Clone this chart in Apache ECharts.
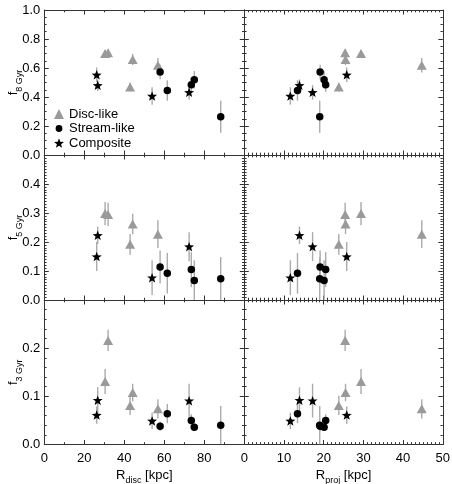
<!DOCTYPE html>
<html><head><meta charset="utf-8">
<script src="https://cdn.jsdelivr.net/npm/echarts@6/dist/echarts.min.js"></script>
<style>html,body{margin:0;padding:0;background:#fff}#c{width:452px;height:484px}</style>
</head><body><div id="c"></div>
<script>
// ---------------- data ----------------
const discRdisc = [30.4, 31.9, 44.2, 42.9, 56.8];
const discRproj = [29.4, 25.4, 25.5, 23.8, 44.7];
const discF8 = [0.700, 0.705, 0.658, 0.469, 0.619];
const discF8Err = [0.02, 0.025, 0.038, 0.03, 0.05];
const discF5 = [0.298, 0.295, 0.262, 0.192, 0.227];
const discF5Err = [0.04, 0.04, 0.035, 0.036, 0.048];
const discF3 = [0.131, 0.216, 0.108, 0.081, 0.074];
const discF3Err = [0.026, 0.022, 0.018, 0.02, 0.02];

const streamRdisc = [57.9, 61.5, 73.5, 75.0, 88.2];
const streamRproj = [19.1, 13.4, 20.5, 20.1, 19.0];
const streamF8 = [0.572, 0.445, 0.485, 0.519, 0.264];
const streamF8Err = [0.05, 0.07, 0.05, 0.06, 0.11];
const streamF5 = [0.114, 0.092, 0.105, 0.067, 0.073];
const streamF5Err = [0.057, 0.07, 0.06, 0.07, 0.075];
const streamF3 = [0.038, 0.064, 0.050, 0.036, 0.040];
const streamF3Err = [0.01, 0.02, 0.013, 0.008, 0.04];

const compRdisc = [26.2, 26.7, 53.9, 72.4];
const compRproj = [25.8, 13.9, 11.6, 17.2];
const compF8 = [0.553, 0.481, 0.407, 0.432];
const compF8Err = [0.05, 0.04, 0.06, 0.05];
const compF5 = [0.150, 0.223, 0.077, 0.184];
const compF5Err = [0.05, 0.03, 0.06, 0.05];
const compF3 = [0.061, 0.092, 0.049, 0.091];
const compF3Err = [0.018, 0.027, 0.017, 0.035];

const seriesNames = ['Disc-like', 'Stream-like', 'Composite'];
const yTitleSubs = ['8 Gyr', '5 Gyr', '3 Gyr'];
const xTitleSubs = ['disc', 'proj'];
const yMaxes = [1.0, 0.5, 0.3];
const yIntervals = [0.2, 0.1, 0.1];
const xMaxes = [100, 50];
const xIntervals = [20, 10];

// ---------------- styling ----------------
const FONT = "'Liberation Sans', Arial, Helvetica, sans-serif";
const AX = '#333';
const yMinorSplit = [4, 10, 5];
const xMinorSplit = [2, 10];
const cols = [{left: 44.3, width: 200}, {left: 244.3, width: 198.5}];
const rows = [{top: 10, height: 145}, {top: 155, height: 145}, {top: 300, height: 144.5}];

function starPath(ro, ri) {
  let d = '';
  for (let k = 0; k < 10; k++) {
    const r = k % 2 === 0 ? ro : ri;
    const a = -Math.PI / 2 + k * Math.PI / 5;
    d += (k === 0 ? 'M' : 'L') + (r * Math.cos(a)).toFixed(3) + ',' + (r * Math.sin(a)).toFixed(3) + ' ';
  }
  return 'path://' + d + 'Z';
}
const STAR = starPath(10, 4.2);
const LEG_CIRCLE = 'path://M0,0 M10,10 M5,1.6 A3.4,3.4 0 1 1 5,8.4 A3.4,3.4 0 1 1 5,1.6 Z';

const groups = [
  {R: [discRdisc, discRproj], f: [discF8, discF5, discF3], e: [discF8Err, discF5Err, discF3Err],
   symbol: 'triangle', size: [10, 9], color: '#9a9a9a'},
  {R: [streamRdisc, streamRproj], f: [streamF8, streamF5, streamF3], e: [streamF8Err, streamF5Err, streamF3Err],
   symbol: 'circle', size: 7.5, color: '#000'},
  {R: [compRdisc, compRproj], f: [compF8, compF5, compF3], e: [compF8Err, compF5Err, compF3Err],
   symbol: STAR, size: [10, 9.5], color: '#000'}
];

const rich = {
  a: {fontSize: 13, fontFamily: FONT, color: '#000', lineHeight: 14, verticalAlign: 'top'},
  b: {fontSize: 9, fontFamily: FONT, color: '#000', lineHeight: 17, verticalAlign: 'bottom'}
};

const grid = [], xAxis = [], yAxis = [], series = [];

function baseAxis(gi, max, interval, minor, pos) {
  return {
    type: 'value', gridIndex: gi, position: pos, min: 0, max: max, interval: interval,
    axisLine: {show: true, onZero: false, lineStyle: {color: AX, width: 1}},
    axisTick: {show: true, inside: true, length: 4.5, lineStyle: {color: AX, width: 1}},
    minorTick: {show: true, splitNumber: minor, length: 2.3, lineStyle: {color: AX, width: 1}},
    splitLine: {show: false}, minorSplitLine: {show: false},
    axisLabel: {show: false}
  };
}

for (let r = 0; r < 3; r++) {
  for (let c = 0; c < 2; c++) {
    const gi = r * 2 + c;
    grid.push({left: cols[c].left, width: cols[c].width, top: rows[r].top, height: rows[r].height,
               containLabel: false, outerBoundsMode: 'none'});
    const xb = baseAxis(gi, xMaxes[c], xIntervals[c], xMinorSplit[c], 'bottom');
    if (r === 2) {
      xb.axisLabel = {show: true, margin: 7, color: '#000', fontSize: 13, fontFamily: FONT,
                      showMaxLabel: c === 1, showMinLabel: true,
                      formatter: v => String(Math.round(v))};
      xb.name = '{a|R}{b|' + xTitleSubs[c] + '}{a| [kpc]}';
      xb.nameLocation = 'middle';
      xb.nameGap = 24;
      xb.nameMoveOverlap = false;
      xb.nameTextStyle = {rich: rich};
    }
    xAxis.push(xb);
    xAxis.push(baseAxis(gi, xMaxes[c], xIntervals[c], xMinorSplit[c], 'top'));
    const yl = baseAxis(gi, yMaxes[r], yIntervals[r], yMinorSplit[r], 'left');
    if (c === 0) {
      yl.axisLabel = {show: true, margin: 4, color: '#000', fontSize: 13, fontFamily: FONT,
                      showMaxLabel: r === 0, showMinLabel: true,
                      formatter: v => v.toFixed(1)};
      yl.name = '{a|f}{b|' + yTitleSubs[r] + '}';
      yl.nameLocation = 'middle';
      yl.nameGap = 20;
      yl.nameMoveOverlap = false;
      yl.nameTextStyle = {rich: rich};
    }
    yAxis.push(yl);
    yAxis.push(baseAxis(gi, yMaxes[r], yIntervals[r], yMinorSplit[r], 'right'));

    groups.forEach((g, k) => {
      const xs = g.R[c], ys = g.f[r], es = g.e[r];
      series.push({
        type: 'custom', name: 'err' + k, xAxisIndex: gi * 2, yAxisIndex: gi * 2, z: 1, silent: true,
        clip: true,
        encode: {x: 0, y: [1, 2]},
        data: xs.map((x, i) => [x, ys[i] - es[i], ys[i] + es[i]]),
        renderItem: (params, api) => {
          const cs = params.coordSys;
          const p1 = api.coord([api.value(0), api.value(1)]);
          const p2 = api.coord([api.value(0), api.value(2)]);
          const yb = Math.min(p1[1], cs.y + cs.height);
          const yt = Math.max(p2[1], cs.y);
          return {type: 'line', shape: {x1: p1[0], y1: yb, x2: p2[0], y2: yt},
                  style: {stroke: '#ababab', lineWidth: 1.4}};
        }
      });
    });
    groups.forEach((g, k) => {
      const xs = g.R[c], ys = g.f[r];
      series.push({
        type: 'scatter', name: seriesNames[k], xAxisIndex: gi * 2, yAxisIndex: gi * 2, z: 3 + k,
        symbol: g.symbol, symbolSize: g.size, silent: true,
        itemStyle: {color: g.color, opacity: 1},
        data: xs.map((x, i) => [x, ys[i]])
      });
    });
  }
}

const chart = echarts.init(document.getElementById('c'), null, {renderer: 'canvas'});
chart.setOption({
  animation: false,
  backgroundColor: '#fff',
  grid: grid, xAxis: xAxis, yAxis: yAxis, series: series,
  legend: {
    data: [{name: seriesNames[0], icon: 'triangle'},
           {name: seriesNames[1], icon: LEG_CIRCLE},
           {name: seriesNames[2], icon: STAR}],
    orient: 'vertical', left: 54, top: 107, itemWidth: 10, itemHeight: 10, itemGap: 0.5,
    selectedMode: false, padding: 0,
    textStyle: {fontSize: 13, fontFamily: FONT, color: '#000', lineHeight: 14}
  }
});
</script></body></html>
